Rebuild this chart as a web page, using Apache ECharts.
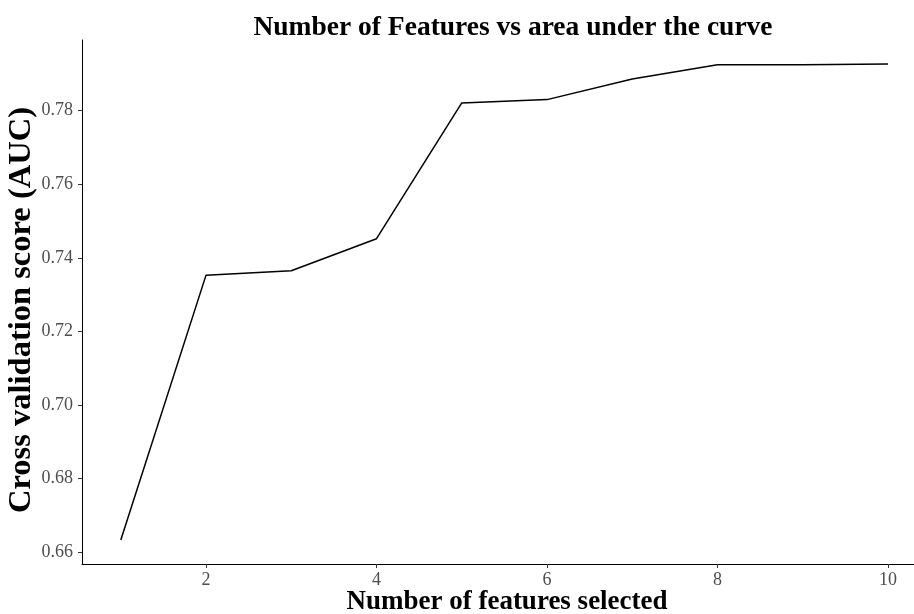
<!DOCTYPE html>
<html>
<head>
<meta charset="utf-8">
<title>Number of Features vs area under the curve</title>
<script src="https://cdn.jsdelivr.net/npm/echarts@6/dist/echarts.min.js"></script>
<style>
  html, body { margin: 0; padding: 0; background: #fff; }
  #chart { width: 914px; height: 614px; }
</style>
</head>
<body>
<div id="chart"></div>
<script>
// Number of selected features and the cross-validated AUC for each
const featureCounts = [1, 2, 3, 4, 5, 6, 7, 8, 9, 10];
const aucScores = [0.6633, 0.7353, 0.7365, 0.7452, 0.7821, 0.7830, 0.7886, 0.7925, 0.7925, 0.7927];
const xTicks = [2, 4, 6, 8, 10];
const yTicks = [0.66, 0.68, 0.70, 0.72, 0.74, 0.76, 0.78];

const serif = '"Liberation Serif", "Times New Roman", serif';
const chart = echarts.init(document.getElementById('chart'), null, { renderer: 'canvas' });

chart.setOption({
  backgroundColor: '#ffffff',
  animation: false,
  title: {
    text: 'Number of Features vs area under the curve',
    left: 508,
    top: 9,
    textAlign: 'center',
    textStyle: { fontFamily: serif, fontWeight: 'bold', fontSize: 27.5, color: '#000' }
  },
  grid: { left: 82, right: 0, top: 40, bottom: 50, containLabel: false, outerBoundsMode: 'none' },
  xAxis: {
    type: 'value',
    min: 0.545,
    max: 10.305,
    interval: 1,
    name: 'Number of features selected',
    nameLocation: 'middle',
    nameGap: 25,
    nameMoveOverlap: false,
    nameTextStyle: {
      fontFamily: serif, fontWeight: 'bold', fontSize: 27, color: '#000',
      padding: [0, 0, 0, 18]
    },
    axisLine: { show: true, lineStyle: { color: '#000', width: 1 } },
    axisTick: {
      show: true, length: 4, lineStyle: { color: '#333', width: 1 },
      customValues: xTicks
    },
    axisLabel: {
      fontFamily: serif, fontSize: 18, color: '#4d4d4d', margin: 7,
      customValues: xTicks,
      formatter: v => String(v)
    },
    splitLine: { show: false }
  },
  yAxis: {
    type: 'value',
    min: 0.6568,
    max: 0.7992,
    name: 'Cross validation score (AUC)',
    nameLocation: 'middle',
    nameGap: 44,
    nameMoveOverlap: false,
    nameRotate: 90,
    nameTextStyle: {
      fontFamily: serif, fontWeight: 'bold', fontSize: 32.5, color: '#000',
      padding: [0, 16, 0, 0]
    },
    axisLine: { show: true, lineStyle: { color: '#000', width: 1 } },
    axisTick: {
      show: true, length: 4, lineStyle: { color: '#333', width: 1 },
      customValues: yTicks
    },
    axisLabel: {
      fontFamily: serif, fontSize: 18, color: '#4d4d4d', margin: 9,
      customValues: yTicks,
      formatter: v => v.toFixed(2)
    },
    splitLine: { show: false }
  },
  series: [{
    type: 'line',
    data: featureCounts.map((n, i) => [n, aucScores[i]]),
    showSymbol: false,
    symbol: 'none',
    lineStyle: { color: '#000', width: 1.5 },
    clip: false
  }]
});
</script>
</body>
</html>
